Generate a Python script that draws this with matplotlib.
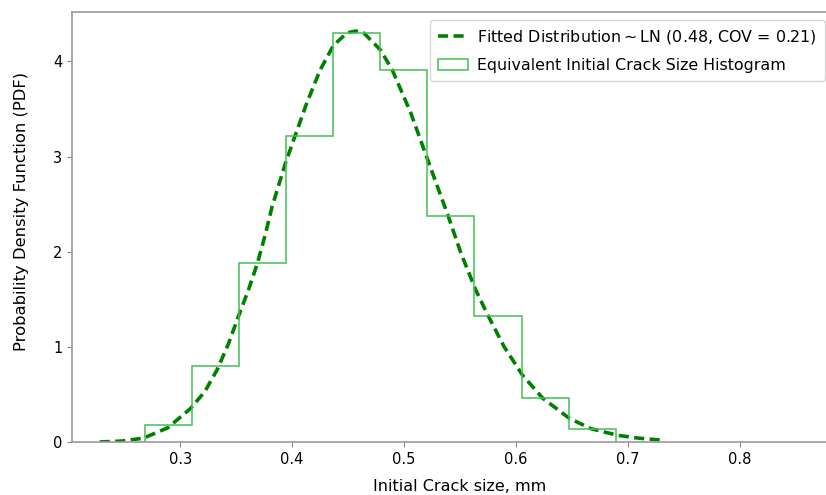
import numpy as np
import matplotlib
matplotlib.use("Agg")
import matplotlib.pyplot as plt

# histogram
bin_edges = [0.2687, 0.3107, 0.3528, 0.3948, 0.4368, 0.4789,
             0.5209, 0.5629, 0.6050, 0.6470, 0.6890]
bin_heights = [0.18, 0.80, 1.88, 3.22, 4.30, 3.91, 2.38, 1.32, 0.46, 0.14]

# fitted curve, points
fit_x = [0.228, 0.248, 0.267, 0.289, 0.309, 0.322, 0.333, 0.343, 0.352, 0.361,
         0.369, 0.376, 0.382, 0.388, 0.394, 0.403, 0.413, 0.425, 0.437, 0.449,
         0.457, 0.464, 0.479, 0.4895, 0.506, 0.521, 0.539, 0.551, 0.564, 0.5746,
         0.5895, 0.606, 0.624, 0.6476, 0.667, 0.691, 0.710, 0.7297]
fit_y = [0.00, 0.01, 0.04, 0.15, 0.35, 0.53, 0.76, 1.03, 1.32, 1.60,
         1.88, 2.18, 2.47, 2.70, 2.93, 3.23, 3.56, 3.91, 4.17, 4.30,
         4.32, 4.30, 4.12, 3.91, 3.46, 2.97, 2.39, 1.98, 1.60, 1.34,
         1.00, 0.70, 0.46, 0.25, 0.14, 0.07, 0.04, 0.02]

fig = plt.figure(figsize=(8.26, 4.95), dpi=100)
ax = fig.add_axes([0.0872, 0.1071, 1.008 - 0.0872, 0.9758 - 0.1071])

ax.plot(fit_x, fit_y, "--", color="#008000", lw=2.6, dashes=(2.8, 1.5),
        label="Fitted Distribution$\\sim$LN (0.48, COV = 0.21)")
ax.hist(bin_edges[:-1], bins=bin_edges, weights=bin_heights, histtype="step",
        color="#45bf57", lw=1.1, label="Equivalent Initial Crack Size Histogram")

ax.set_xlim(0.2033, 0.883)
ax.set_ylim(0, 4.52)
ax.set_xticks([0.3, 0.4, 0.5, 0.6, 0.7, 0.8])
ax.set_yticks([0, 1, 2, 3, 4])
ax.tick_params(labelsize=10.5, color="#888888", length=3.5)
for s in ax.spines.values():
    s.set_color("#999999")
    s.set_linewidth(1.2)

ax.set_xlabel("Initial Crack size, mm", fontsize=11.5)
ax.set_ylabel("Probability Density Function (PDF)", fontsize=11.8)
ax.xaxis.set_label_coords(0.509, -0.085)
ax.yaxis.set_label_coords(-0.056, 0.537)

ax.legend(loc="upper right", fontsize=11.4, handlelength=1.9, handletextpad=0.6,
          labelspacing=0.75, borderpad=0.5, borderaxespad=0.5)

fig.savefig("out.png", dpi=100)
